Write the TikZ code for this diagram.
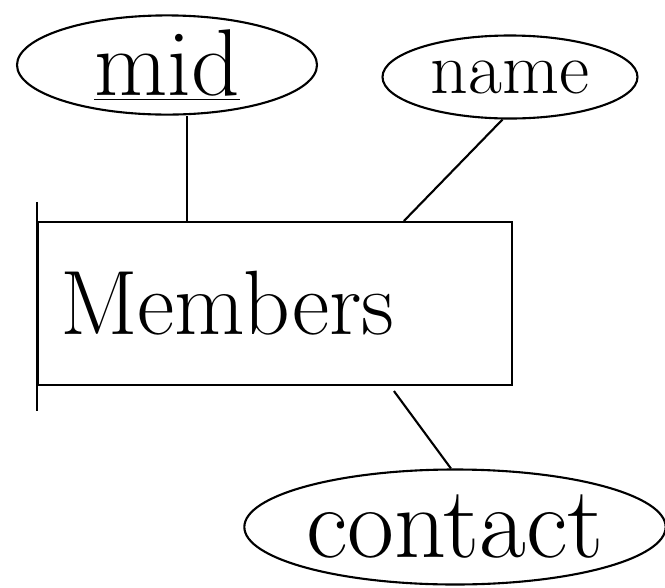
\documentclass[tikz,border=0pt]{standalone}
\usepackage{tikz}
\usetikzlibrary{shapes.geometric,positioning}

\begin{document}
\begin{tikzpicture}[line width=1.2pt,
  attr/.style={ellipse, draw, inner sep=0pt},
  entity/.style={rectangle, draw, inner ysep=0pt}]
  \useasboundingbox (0,0) rectangle (13.3,-11.74);

  \node [attr, minimum width=6cm, minimum height=1.9cm] (mid) at (3.34,-1.30)
    {\fontsize{54}{58}\selectfont\underline{mid}};
  \node [attr, minimum width=5.1cm, minimum height=1.66cm] (name) at (10.2,-1.54)
    {\fontsize{42}{46}\selectfont name};
  \node [entity, minimum height=3.26cm, inner xsep=0.44cm, text width=8.6cm, align=left] (members) at (5.5,-6.07)
    {\fontsize{52}{56}\selectfont Members};
  \node [attr, minimum width=8.28cm, minimum height=2.3cm] (contact) at (9.1,-10.54)
    {\fontsize{58}{62}\selectfont contact};

  \coordinate (m1) at ([xshift=3.0cm]members.north west);
  \coordinate (m2) at ([xshift=7.34cm]members.north west);
  \coordinate (m3) at ([xshift=7.14cm, yshift=-0.1cm]members.south west);

  \draw (m1) -- (m1 |- mid.south);
  \draw (m2) -- (name.-100);
  \draw (m3) -- (contact.94);
  \draw ([yshift=0.38cm]members.north west) -- ([yshift=-0.5cm]members.south west);
\end{tikzpicture}
\end{document}
